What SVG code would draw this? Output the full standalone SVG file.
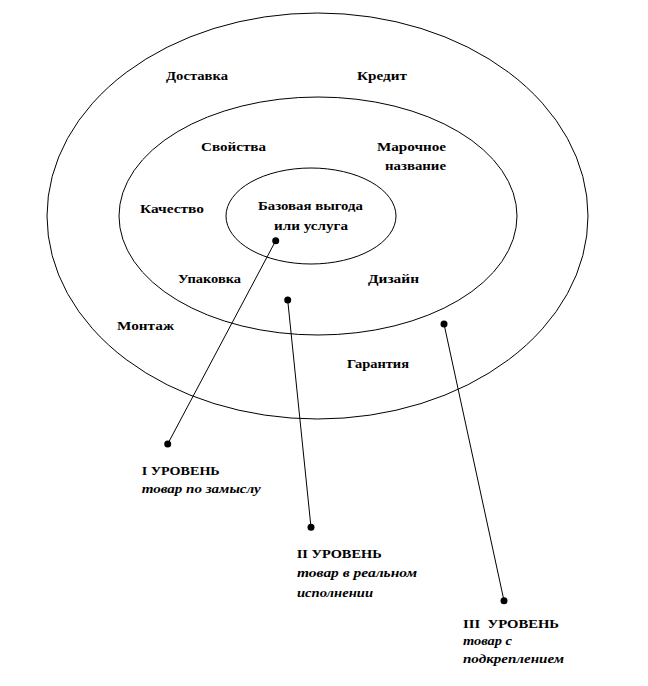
<svg xmlns="http://www.w3.org/2000/svg" width="648" height="686" viewBox="0 0 648 686">
<style>
.ring{fill:none;stroke:#000;stroke-width:1}
.lbl{font-family:"Liberation Serif","Times New Roman",serif;font-size:13.5px;font-weight:bold;fill:#000}
.it{font-family:"Liberation Serif","Times New Roman",serif;font-size:13px;font-weight:bold;font-style:italic;fill:#000}
.ln{stroke:#000;stroke-width:1;fill:none}
.dot{fill:#000}
</style>
<rect width="648" height="686" fill="#fff"/>
<g id="outer-ring">
<ellipse class="ring" cx="317.5" cy="216" rx="270.5" ry="203"/>
<text class="lbl" x="166" y="80" textLength="62" lengthAdjust="spacingAndGlyphs">Доставка</text>
<text class="lbl" x="357" y="80" textLength="50" lengthAdjust="spacingAndGlyphs">Кредит</text>
<text class="lbl" x="117" y="330" textLength="57" lengthAdjust="spacingAndGlyphs">Монтаж</text>
<text class="lbl" x="347" y="368" textLength="62" lengthAdjust="spacingAndGlyphs">Гарантия</text>
</g>
<g id="middle-ring">
<ellipse class="ring" cx="318" cy="216" rx="199" ry="119"/>
<text class="lbl" x="201" y="151" textLength="65" lengthAdjust="spacingAndGlyphs">Свойства</text>
<text class="lbl" x="377" y="151" textLength="69" lengthAdjust="spacingAndGlyphs">Марочное</text>
<text class="lbl" x="385" y="170" textLength="61" lengthAdjust="spacingAndGlyphs">название</text>
<text class="lbl" x="140" y="213" textLength="64" lengthAdjust="spacingAndGlyphs">Качество</text>
<text class="lbl" x="178" y="283" textLength="63" lengthAdjust="spacingAndGlyphs">Упаковка</text>
<text class="lbl" x="368" y="283" textLength="51" lengthAdjust="spacingAndGlyphs">Дизайн</text>
</g>
<g id="inner-ring">
<ellipse class="ring" cx="311" cy="216" rx="85" ry="48"/>
<text class="lbl" x="258" y="210" textLength="105" lengthAdjust="spacingAndGlyphs">Базовая выгода</text>
<text class="lbl" x="274" y="230" textLength="74" lengthAdjust="spacingAndGlyphs">или услуга</text>
</g>
<g id="connectors">
<line class="ln" x1="275.7" y1="240.7" x2="167.7" y2="444"/>
<circle class="dot" cx="275.7" cy="240.7" r="3.5"/>
<circle class="dot" cx="167.7" cy="444" r="3.5"/>
<line class="ln" x1="287.7" y1="300" x2="311" y2="527.3"/>
<circle class="dot" cx="287.7" cy="300" r="3.5"/>
<circle class="dot" cx="311" cy="527.3" r="3.5"/>
<line class="ln" x1="444" y1="324" x2="504" y2="600.7"/>
<circle class="dot" cx="444" cy="324" r="3.5"/>
<circle class="dot" cx="504" cy="600.7" r="3.5"/>
</g>
<g id="level-1">
<text class="lbl" x="141.7" y="475" textLength="78" lengthAdjust="spacingAndGlyphs">I УРОВЕНЬ</text>
<text class="it" x="141.7" y="493" textLength="119" lengthAdjust="spacingAndGlyphs">товар по замыслу</text>
</g>
<g id="level-2">
<text class="lbl" x="296.7" y="558" textLength="85" lengthAdjust="spacingAndGlyphs">II УРОВЕНЬ</text>
<text class="it" x="297" y="577" textLength="120" lengthAdjust="spacingAndGlyphs">товар в реальном</text>
<text class="it" x="297" y="597" textLength="76" lengthAdjust="spacingAndGlyphs">исполнении</text>
</g>
<g id="level-3">
<text class="lbl" x="463" y="628" textLength="96" lengthAdjust="spacingAndGlyphs" xml:space="preserve">III  УРОВЕНЬ</text>
<text class="it" x="463" y="645" textLength="49" lengthAdjust="spacingAndGlyphs">товар с</text>
<text class="it" x="463" y="663" textLength="101" lengthAdjust="spacingAndGlyphs">подкреплением</text>
</g>
</svg>
